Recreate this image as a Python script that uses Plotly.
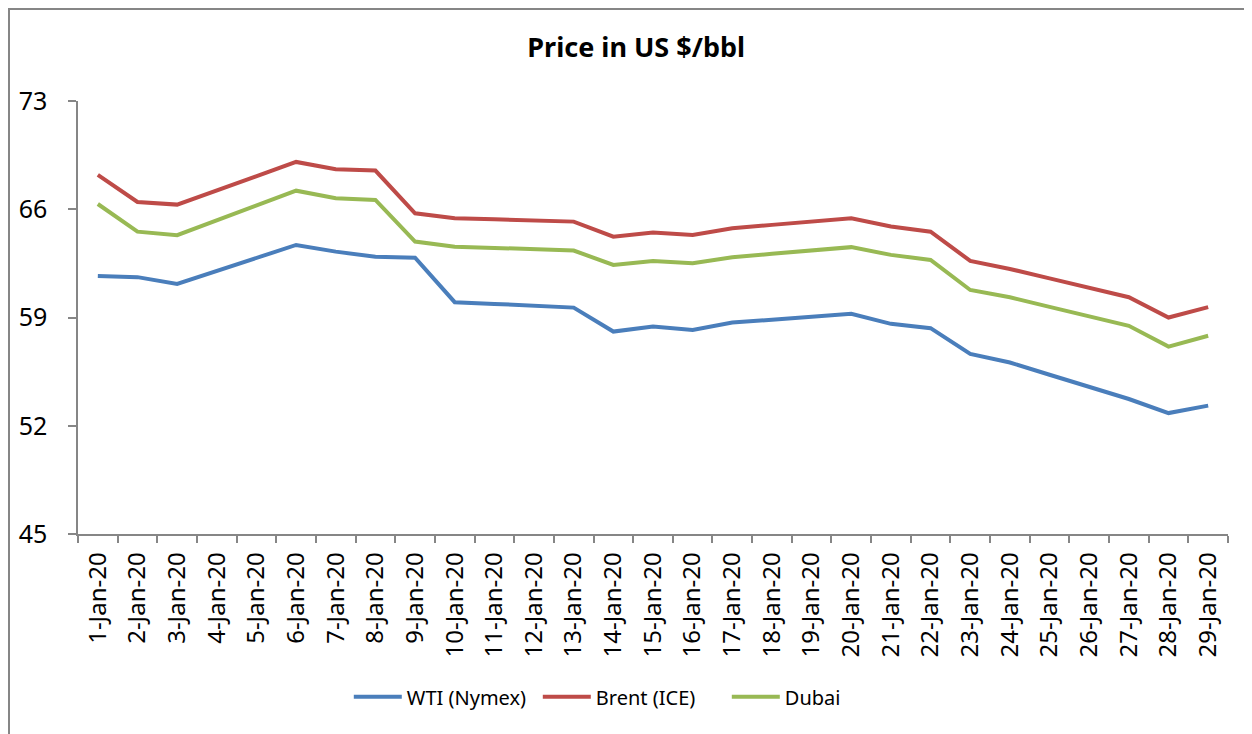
import plotly.graph_objects as go

dates = [f"{d}-Jan-20" for d in range(1, 30)]

wti = [61.69, 61.61, 61.17, 62.0, 62.85, 63.69, 63.26, 62.93, 62.87, 59.99,
       59.88, 59.76, 59.64, 58.09, 58.42, 58.20, 58.67, 58.86, 59.05, 59.24,
       58.59, 58.31, 56.65, 56.09, 55.30, 54.52, 53.73, 52.82, 53.30]
brent = [68.22, 66.47, 66.30, 67.22, 68.14, 69.06, 68.59, 68.50, 65.74, 65.42,
         65.35, 65.27, 65.20, 64.23, 64.49, 64.34, 64.77, 64.99, 65.20, 65.42,
         64.88, 64.55, 62.66, 62.14, 61.53, 60.92, 60.31, 59.00, 59.67]
dubai = [66.34, 64.55, 64.32, 65.28, 66.24, 67.20, 66.71, 66.60, 63.91, 63.58,
         63.50, 63.41, 63.33, 62.40, 62.66, 62.51, 62.90, 63.12, 63.34, 63.55,
         63.05, 62.72, 60.78, 60.31, 59.69, 59.07, 58.46, 57.12, 57.82]

series = [("WTI (Nymex)", wti, "#4A7EBB"),
          ("Brent (ICE)", brent, "#BE4B48"),
          ("Dubai", dubai, "#98B954")]

yticks = [45, 52, 59, 66, 73]

FONT = "Noto Sans"
fig = go.Figure()
for name, vals, col in series:
    fig.add_trace(go.Scatter(x=dates, y=vals, name=name, mode="lines",
                             line=dict(color=col, width=4)))

fig.update_layout(
    width=1244, height=726,
    margin=dict(l=70, r=24, t=93, b=200, autoexpand=False),
    paper_bgcolor="white", plot_bgcolor="white",
    font=dict(family=FONT, color="black"),
    title=dict(text="<b>Price in US $/bbl</b>", x=0.505, xanchor="center",
               y=0.945, yanchor="middle", font=dict(size=27, family=FONT)),
    legend=dict(orientation="h", x=0.482, xanchor="center", y=-0.376,
                yanchor="middle", font=dict(size=20, family=FONT),
                traceorder="normal", itemwidth=48, entrywidth=126,
                entrywidthmode="pixels"),
    showlegend=True,
)
fig.update_xaxes(
    type="category", range=[-0.5, 28.5], tickangle=-90, automargin=False,
    showline=True, linecolor="#868686", linewidth=1.5,
    ticks="outside", tickson="boundaries", ticklen=7, tickcolor="#868686",
    tickwidth=1.5, showgrid=False, zeroline=False,
    tickfont=dict(size=24, family=FONT), ticklabelstandoff=7,
)
fig.update_yaxes(
    range=[45, 73], tickvals=yticks, ticktext=[str(v) for v in yticks],
    automargin=False,
    showline=True, linecolor="#868686", linewidth=1.5,
    ticks="outside", ticklen=8, tickcolor="#868686", tickwidth=1.5,
    showgrid=False, zeroline=False,
    tickfont=dict(size=25, family=FONT), ticklabelstandoff=16,
)
fig.add_shape(type="rect", xref="paper", yref="paper",
              x0=-0.060, x1=1.05, y0=-0.47, y1=1.2125,
              line=dict(color="#868686", width=2), layer="below")

fig.write_html("out.html")
